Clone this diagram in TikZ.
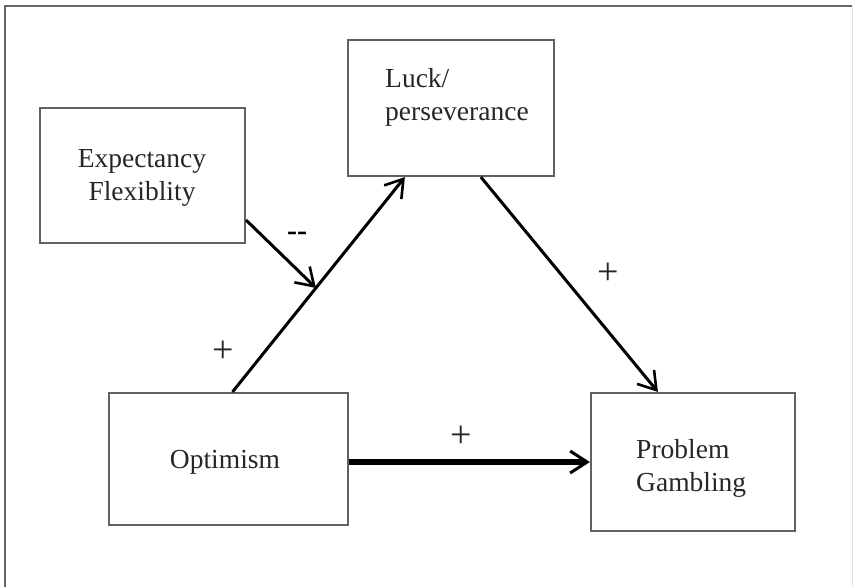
\documentclass[tikz,border=0pt]{standalone}
\usepackage{fontspec}
\setmainfont{Liberation Serif}
\usepackage{tikz}
\usetikzlibrary{arrows.meta,calc}
\newcommand{\boxcolor}{black!62}
\newcommand{\labelcolor}{black!85}
\newcommand{\arrowwidth}{3pt}

\begin{document}
\begin{tikzpicture}[x=1pt,y=-1pt,
  varbox/.style={draw=\boxcolor, line width=2.2pt, rectangle, inner sep=0pt},
  vartext/.style={text=\labelcolor, inner sep=0pt, font=\fontsize{27.5}{33}\selectfont},
  path/.style={draw=black, line width=\arrowwidth, -{Straight Barb[length=17pt,width=22pt,line width=2.6pt]}},
  sign/.style={text=\labelcolor, inner sep=0pt, font=\fontsize{38}{38}\selectfont}]
\useasboundingbox (0,0) rectangle (853,586);
% frame
\draw[black!60, line width=1.5pt] (5,590) -- (5,6) -- (852,6);
\draw[black!12, line width=1pt] (852,6) -- (852,590);
% boxes
\node[varbox, minimum width=205, minimum height=135] (expect) at (142.5,175.5) {};
\node[varbox, minimum width=206, minimum height=136] (luck) at (451,108) {};
\node[varbox, minimum width=239, minimum height=132] (optim) at (228.5,459) {};
\node[varbox, minimum width=204, minimum height=138] (gamb) at (693,462) {};
% texts
\node[vartext, align=center] (expecttxt) at (142,178) {Expectancy\\Flexiblity};
\node[vartext, align=left, anchor=west] (lucktxt) at (385,97) {Luck/\\perseverance};
\node[vartext] (optimtxt) at (225,462) {Optimism};
\node[vartext, align=left, anchor=west] (gambtxt) at (636,468) {Problem\\Gambling};
% paths
\draw[path] ([xshift=4]optim.north) -- coordinate[pos=0.484] (mod) ([xshift=58]luck.south west);
\draw[path] ([yshift=24]expect.south east) -- (mod);
\draw[path] ([xshift=134]luck.south west) -- ([xshift=68]gamb.north west);
\draw[path, line width=6pt, -{Straight Barb[length=17pt,width=22pt,line width=3pt]}] (optim.east |- gamb.west) -- (gamb.west);
% signs
\node[text=black, inner sep=0pt, font=\fontsize{30}{30}\selectfont\bfseries] (minus) at (297,236) {-{}-};
\node[sign] (plusa) at (223,352) {+};
\node[sign] (plusb) at (608,274) {+};
\node[sign] (plusc) at (461,437) {+};
\end{tikzpicture}
\end{document}
